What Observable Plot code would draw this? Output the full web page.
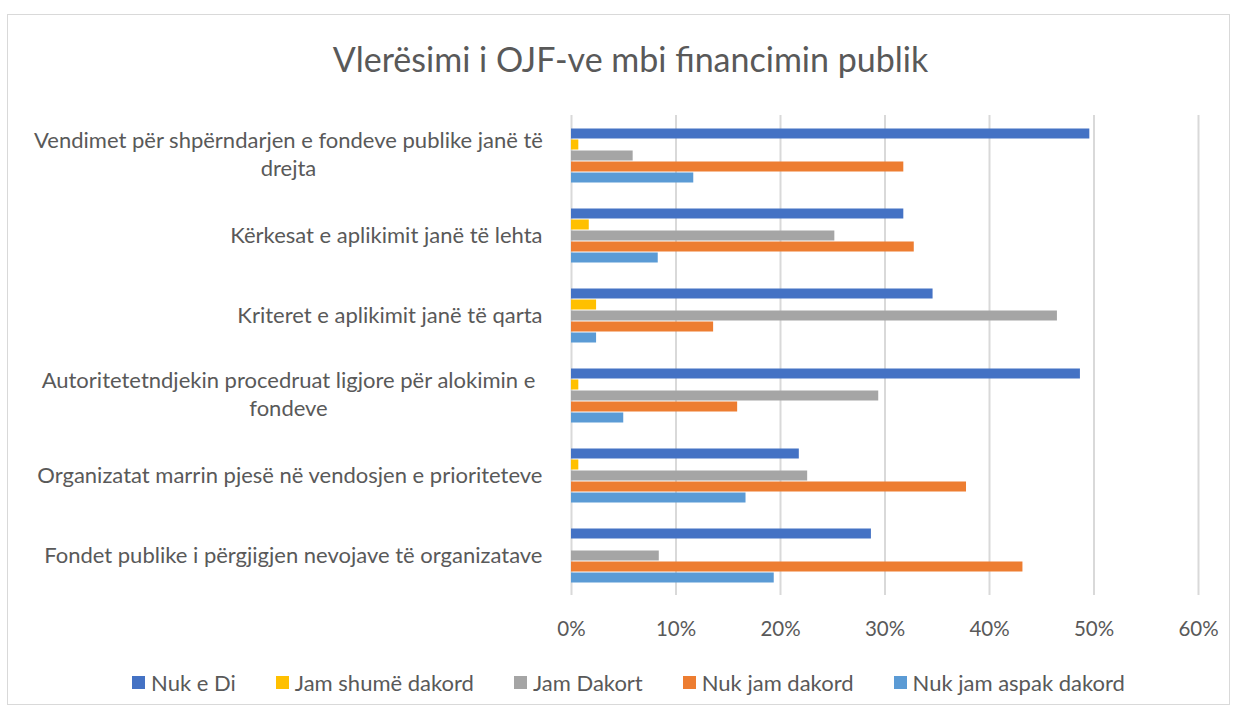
<!DOCTYPE html>
<html><head><meta charset="utf-8">
<script src="https://cdn.jsdelivr.net/npm/d3@7"></script>
<script src="https://cdn.jsdelivr.net/npm/@observablehq/plot@0.6"></script>
<style>
body{margin:0;background:#fff;font-family:Lato, "Open Sans", sans-serif;color:#595959;}
#frame{position:absolute;left:7px;top:14px;width:1223px;height:691px;border:1px solid #d9d9d9;box-sizing:border-box;}
#title{position:absolute;left:0;width:1235px;padding-left:26px;box-sizing:border-box;top:37px;text-align:center;font-size:34px;line-height:44px;color:#595959;}
#chart{position:absolute;left:0;top:100px;}
#legend{position:absolute;left:0;top:667px;height:30px;width:1235px;padding-left:22px;box-sizing:border-box;display:flex;justify-content:center;align-items:center;font-size:22px;color:#595959;}
.item{display:flex;align-items:center;margin:0 20px;}
.sw{width:13px;height:13px;margin-right:6px;}
</style></head><body>
<div id="frame"></div>
<div id="title">Vlerësimi i OJF-ve mbi financimin publik</div>
<div id="chart"></div>
<div id="legend"></div>
<script>
const categories = [
  "Vendimet për shpërndarjen e fondeve publike janë të\ndrejta",
  "Kërkesat e aplikimit janë të lehta",
  "Kriteret e aplikimit janë të qarta",
  "Autoritetetndjekin procedruat ligjore për alokimin e\nfondeve",
  "Organizatat marrin pjesë në vendosjen e prioriteteve",
  "Fondet publike i përgjigjen nevojave të organizatave"
];
const series = ["Nuk e Di", "Jam shumë dakord", "Jam Dakort", "Nuk jam dakord", "Nuk jam aspak dakord"];
const nukEDi            = [49.6, 31.8, 34.6, 48.7, 21.8, 28.7];
const jamShumeDakord    = [0.7, 1.7, 2.4, 0.7, 0.7, 0];
const jamDakort         = [5.9, 25.2, 46.5, 29.4, 22.6, 8.4];
const nukJamDakord      = [31.8, 32.8, 13.6, 15.9, 37.8, 43.2];
const nukJamAspakDakord = [11.7, 8.3, 2.4, 5.0, 16.7, 19.4];
const colors = ["#4472C4", "#FFC000", "#A5A5A5", "#ED7D31", "#5B9BD5"];
const xTicks = [0, 10, 20, 30, 40, 50, 60];

const seriesValues = [nukEDi, jamShumeDakord, jamDakort, nukJamDakord, nukJamAspakDakord];
const data = [];
categories.forEach((c, i) => series.forEach((s, j) => data.push({category: c, series: s, value: seriesValues[j][i]})));

const wrapped = categories.filter(c => c.includes("\n"));
const single = categories.filter(c => !c.includes("\n"));

const chart = Plot.plot({
  width: 1235,
  height: 560,
  marginLeft: 571,
  marginRight: 37,
  marginTop: 13,
  marginBottom: 63,
  style: {fontFamily: "Lato, 'Open Sans', sans-serif", fontSize: "20.5px", color: "#595959", background: "transparent"},
  x: {domain: [0, 60], ticks: xTicks, tickFormat: d => d + "%", tickSize: 0, tickPadding: 26, label: null},
  y: {domain: series, axis: null, paddingInner: 0, paddingOuter: 1},
  fy: {domain: categories, axis: null, padding: 0},
  color: {domain: series, range: colors},
  marks: [
    Plot.ruleX(xTicks, {x: d => d, stroke: "#d9d9d9", strokeWidth: 2}),
    Plot.barX(data, {x: "value", y: "series", fy: "category", fill: "series", insetTop: 0.5, insetBottom: 0.5}),
    Plot.text(single, {fy: d => d, text: d => d, frameAnchor: "left", textAnchor: "end", dx: -29, fontSize: 22, fill: "#595959"}),
    Plot.text(wrapped, {fy: d => d, text: d => d, frameAnchor: "left", textAnchor: "middle", dx: -283, dy: -2.5, fontSize: 22, lineHeight: 1.27, fill: "#595959"})
  ]
});
document.getElementById("chart").appendChild(chart);

const legend = d3.select("#legend");
series.forEach((s, j) => {
  const it = legend.append("div").attr("class", "item");
  it.append("div").attr("class", "sw").style("background", colors[j]);
  it.append("span").text(s);
});
</script>
</body></html>
